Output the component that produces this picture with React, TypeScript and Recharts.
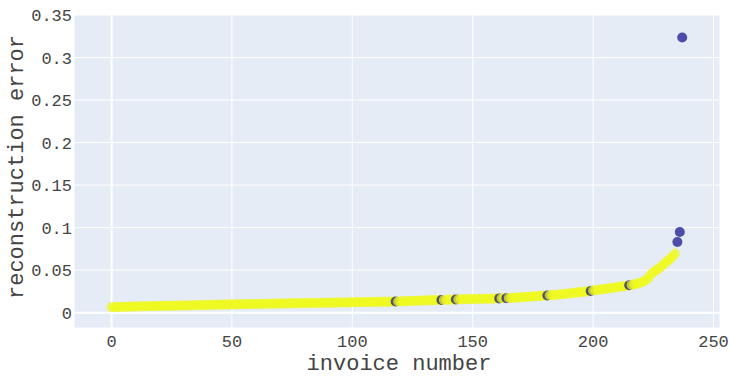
import { ScatterChart, Scatter, XAxis, YAxis, CartesianGrid, ReferenceLine, Label } from 'recharts'

// reconstruction error per invoice, sorted ascending
const invoiceErrors = [
  0.0063, 0.0065, 0.0066, 0.0067, 0.0068, 0.0069, 0.0070, 0.0070, 0.0071, 0.0072,
  0.0073, 0.0073, 0.0074, 0.0075, 0.0075, 0.0076, 0.0077, 0.0077, 0.0078, 0.0078,
  0.0079, 0.0080, 0.0080, 0.0081, 0.0081, 0.0082, 0.0083, 0.0083, 0.0084, 0.0084,
  0.0085, 0.0086, 0.0086, 0.0087, 0.0087, 0.0088, 0.0089, 0.0089, 0.0090, 0.0090,
  0.0091, 0.0092, 0.0092, 0.0093, 0.0093, 0.0094, 0.0095, 0.0095, 0.0096, 0.0096,
  0.0097, 0.0098, 0.0098, 0.0099, 0.0099, 0.0100, 0.0100, 0.0101, 0.0101, 0.0102,
  0.0102, 0.0103, 0.0103, 0.0104, 0.0104, 0.0105, 0.0105, 0.0106, 0.0106, 0.0107,
  0.0107, 0.0108, 0.0108, 0.0109, 0.0109, 0.0110, 0.0110, 0.0111, 0.0111, 0.0112,
  0.0112, 0.0113, 0.0113, 0.0114, 0.0114, 0.0115, 0.0115, 0.0116, 0.0116, 0.0117,
  0.0117, 0.0118, 0.0118, 0.0119, 0.0119, 0.0120, 0.0120, 0.0121, 0.0121, 0.0122,
  0.0122, 0.0123, 0.0123, 0.0124, 0.0124, 0.0125, 0.0125, 0.0126, 0.0126, 0.0127,
  0.0127, 0.0128, 0.0128, 0.0129, 0.0129, 0.0130, 0.0130, 0.0131, 0.0131, 0.0132,
  0.0133, 0.0134, 0.0135, 0.0136, 0.0137, 0.0138, 0.0139, 0.0140, 0.0141, 0.0142,
  0.0143, 0.0144, 0.0145, 0.0146, 0.0147, 0.0148, 0.0148, 0.0149, 0.0150, 0.0151,
  0.0152, 0.0153, 0.0154, 0.0155, 0.0156, 0.0157, 0.0158, 0.0159, 0.0159, 0.0160,
  0.0161, 0.0161, 0.0162, 0.0162, 0.0163, 0.0163, 0.0164, 0.0165, 0.0165, 0.0166,
  0.0167, 0.0168, 0.0169, 0.0170, 0.0171, 0.0172, 0.0173, 0.0175, 0.0177, 0.0179,
  0.0181, 0.0183, 0.0185, 0.0187, 0.0189, 0.0191, 0.0193, 0.0195, 0.0197, 0.0199,
  0.0201, 0.0203, 0.0205, 0.0207, 0.0209, 0.0212, 0.0215, 0.0218, 0.0221, 0.0224,
  0.0227, 0.0230, 0.0233, 0.0236, 0.0239, 0.0242, 0.0245, 0.0248, 0.0252, 0.0256,
  0.0260, 0.0264, 0.0268, 0.0272, 0.0276, 0.0280, 0.0284, 0.0288, 0.0292, 0.0296,
  0.0300, 0.0304, 0.0308, 0.0312, 0.0317, 0.0322, 0.0327, 0.0333, 0.0339, 0.0346,
  0.0355, 0.0370, 0.0385, 0.0410, 0.0450, 0.0475, 0.0495, 0.0515, 0.0535, 0.0560,
  0.0585, 0.0610, 0.0635, 0.0660, 0.0695, 0.0831, 0.0949, 0.3235,
]

// invoices flagged as anomalies (dark markers)
const anomalyInvoices = [118, 137, 143, 161, 164, 181, 199, 215, 235, 236, 237]

const xTicks = [0, 50, 100, 150, 200, 250]
const yTicks = [0, 0.05, 0.1, 0.15, 0.2, 0.25, 0.3, 0.35]

const NORMAL_COLOR = '#f0f921'
const ANOMALY_COLOR = '#0d0887'
const FONT = "'Courier New', 'Liberation Mono', monospace"
const TEXT_COLOR = '#444'

const data = invoiceErrors.map((error, invoice) => ({
  invoice,
  error,
  anomaly: anomalyInvoices.includes(invoice),
}))

const Dot = (props: any) => {
  const { cx, cy, payload } = props
  if (cx == null || cy == null) return null
  return <circle cx={cx} cy={cy} r={5} fill={payload.anomaly ? ANOMALY_COLOR : NORMAL_COLOR} fillOpacity={0.7} />
}

const tickStyle = { fontSize: 17, fill: TEXT_COLOR, fontFamily: FONT }

export default function App() {
  return (
    <div style={{ position: 'absolute', left: 0, top: 0, width: 730, height: 378, background: '#fff' }}>
      <ScatterChart width={730} height={378} margin={{ top: 15, right: 10, bottom: 0, left: 0 }}>
        <CartesianGrid fill="#E5ECF6" stroke="#fff" strokeWidth={1} />
        <XAxis
          type="number"
          dataKey="invoice"
          domain={[-15.6, 252.7]}
          ticks={xTicks}
          allowDataOverflow
          axisLine={false}
          tickLine={false}
          tickSize={0}
          tickMargin={7}
          height={50}
          tick={tickStyle}
        >
          <Label
            content={() => (
              <text x={399} y={370} textAnchor="middle" fontSize={22} fill={TEXT_COLOR} fontFamily={FONT}>
                invoice number
              </text>
            )}
          />
        </XAxis>
        <YAxis
          type="number"
          dataKey="error"
          domain={[-0.018, 0.35]}
          ticks={yTicks}
          allowDataOverflow
          axisLine={false}
          tickLine={false}
          tickSize={0}
          tickMargin={2}
          width={74}
          tick={tickStyle}
        >
          <Label
            content={() => (
              <text
                x={23}
                y={167}
                transform="rotate(-90 23 167)"
                textAnchor="middle"
                fontSize={22}
                fill={TEXT_COLOR}
                fontFamily={FONT}
              >
                reconstruction error
              </text>
            )}
          />
        </YAxis>
        <ReferenceLine x={0} stroke="#fff" strokeWidth={2} />
        <ReferenceLine y={0} stroke="#fff" strokeWidth={2} />
        <Scatter data={data} shape={Dot} isAnimationActive={false} />
      </ScatterChart>
    </div>
  )
}
